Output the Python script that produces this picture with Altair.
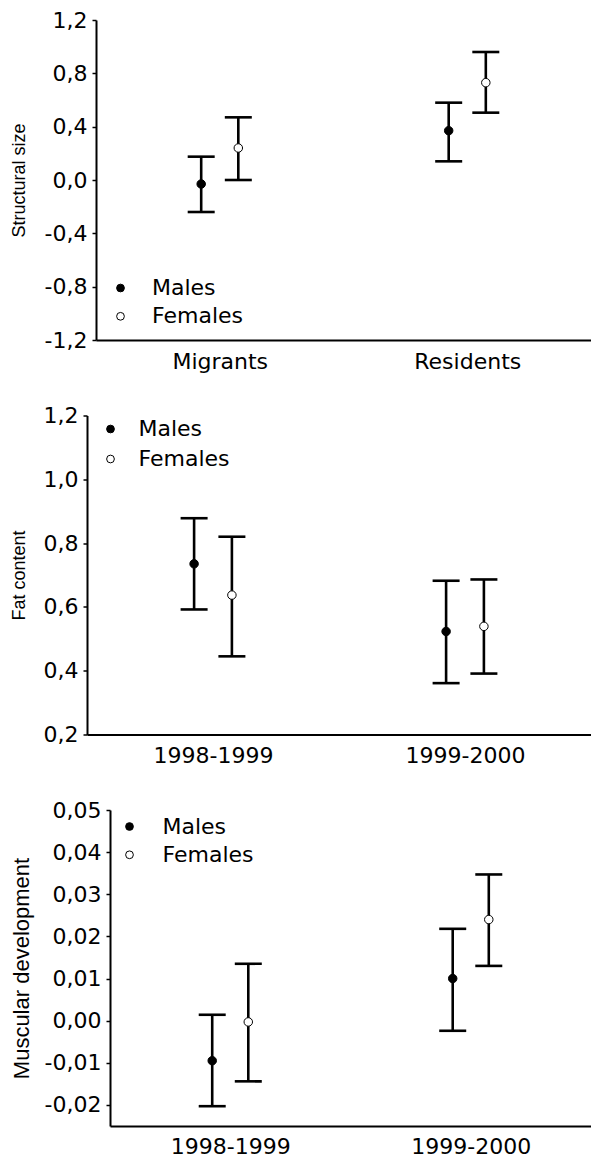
import altair as alt
import pandas as pd

LABEL_FONT = "DejaVu Sans"
TITLE_FONT = "Liberation Sans"
SEXES = ["Males", "Females"]
SEX_FILLS = ["black", "white"]
DODGE = 0.075  # horizontal shift of each sex around its group centre (axis units)

# Structural size by migratory status
migration = ["Migrants", "Residents"]
size_m_mean = [-0.03, 0.37]
size_m_lo = [-0.24, 0.14]
size_m_hi = [0.175, 0.58]
size_f_mean = [0.24, 0.73]
size_f_lo = [0.0, 0.505]
size_f_hi = [0.47, 0.96]
size_ticks = [-1.2, -0.8, -0.4, 0.0, 0.4, 0.8, 1.2]

# Fat content by season
seasons = ["1998-1999", "1999-2000"]
fat_m_mean = [0.735, 0.523]
fat_m_lo = [0.592, 0.361]
fat_m_hi = [0.878, 0.682]
fat_f_mean = [0.637, 0.539]
fat_f_lo = [0.445, 0.391]
fat_f_hi = [0.82, 0.686]
fat_ticks = [0.2, 0.4, 0.6, 0.8, 1.0, 1.2]

# Muscular development by season
mus_m_mean = [-0.0095, 0.0100]
mus_m_lo = [-0.0203, -0.0024]
mus_m_hi = [0.0014, 0.0218]
mus_f_mean = [-0.0003, 0.0240]
mus_f_lo = [-0.0144, 0.0130]
mus_f_hi = [0.0135, 0.0347]
mus_ticks = [-0.02, -0.01, 0.0, 0.01, 0.02, 0.03, 0.04, 0.05]


def table(groups, m_mean, m_lo, m_hi, f_mean, f_lo, f_hi):
    rows = []
    for i, g in enumerate(groups):
        rows.append(dict(gi=i, group=g, sex=SEXES[0], mean=m_mean[i], lo=m_lo[i], hi=m_hi[i]))
        rows.append(dict(gi=i, group=g, sex=SEXES[1], mean=f_mean[i], lo=f_lo[i], hi=f_hi[i]))
    return pd.DataFrame(rows)


def panel(df, groups, title, title_size, domain, ticks, fmt, width, height,
          extent, title_pad, x_label_pad, legend_x, legend_y, legend_gap, legend_offset):
    y_labels = ("replace(replace(format(datum.value, '%s'), '.', ','), '\u2212', '-')" % fmt)
    x_labels = "datum.value < 1 ? '%s' : '%s'" % (groups[0], groups[1])

    x = alt.X(
        "pos:Q",
        scale=alt.Scale(domain=[0, len(groups)], nice=False, zero=False),
        axis=alt.Axis(
            values=[i + 0.5 for i in range(len(groups))], labelExpr=x_labels,
            ticks=False, tickSize=0, grid=False, domainWidth=2, domainColor="black",
            labelFont=LABEL_FONT, labelFontSize=22, labelColor="black",
            labelPadding=x_label_pad, labelAngle=0,
        ),
        title=None,
    )
    y_scale = alt.Scale(domain=domain, nice=False, zero=False)
    y_axis = alt.Axis(
        values=ticks, labelExpr=y_labels, grid=False,
        tickSize=4, tickWidth=1.5, tickColor="black",
        domainWidth=2, domainColor="black",
        labelFont=LABEL_FONT, labelFontSize=22, labelColor="black", labelPadding=5,
        minExtent=extent, maxExtent=extent,
        titleFont=TITLE_FONT, titleFontSize=title_size, titleFontWeight="normal",
        titleColor="black", titlePadding=title_pad,
    )

    def yenc(field):
        return alt.Y(field, scale=y_scale, axis=y_axis, title=title)

    base = alt.Chart(df).transform_calculate(
        pos="datum.gi + 0.5 + (datum.sex == '%s' ? -%f : %f)" % (SEXES[0], DODGE, DODGE)
    )
    bars = base.mark_rule(color="black", strokeWidth=2.6).encode(
        x=x, y=yenc("lo:Q"), y2="hi:Q"
    )
    cap_lo = base.mark_tick(orient="horizontal", color="black", size=27,
                            thickness=2.6, opacity=1).encode(x=x, y=yenc("lo:Q"))
    cap_hi = base.mark_tick(orient="horizontal", color="black", size=27,
                            thickness=2.6, opacity=1).encode(x=x, y=yenc("hi:Q"))
    dots = base.mark_point(filled=True, shape="circle", size=72, stroke="black",
                           strokeWidth=1, opacity=1).encode(
        x=x,
        y=yenc("mean:Q"),
        fill=alt.Fill(
            "sex:N",
            scale=alt.Scale(domain=SEXES, range=SEX_FILLS),
            legend=alt.Legend(
                orient="none", legendX=legend_x, legendY=legend_y, title=None,
                padding=0, symbolType="circle", symbolSize=60,
                symbolStrokeColor="black", symbolStrokeWidth=1, symbolOpacity=1,
                labelFont=LABEL_FONT, labelFontSize=22, labelColor="black",
                labelOffset=legend_offset, rowPadding=legend_gap,
            ),
        ),
    )
    return alt.layer(bars, cap_lo, cap_hi, dots).properties(width=width, height=height)


def spacer(width):
    # empty, invisible cell that sets where the panel's plot area starts
    return (
        alt.Chart(pd.DataFrame({"z": [0]}))
        .mark_rect(opacity=0)
        .encode(x=alt.value(0), x2=alt.value(width), y=alt.value(0), y2=alt.value(1))
        .properties(width=width, height=1)
    )


def row(left, plot):
    return (
        alt.hconcat(spacer(left), plot, spacing=0, bounds="flush")
        .resolve_scale(x="independent", y="independent", fill="independent")
        .resolve_legend(fill="independent")
    )


size_df = table(migration, size_m_mean, size_m_lo, size_m_hi, size_f_mean, size_f_lo, size_f_hi)
fat_df = table(seasons, fat_m_mean, fat_m_lo, fat_m_hi, fat_f_mean, fat_f_lo, fat_f_hi)
mus_df = table(seasons, mus_m_mean, mus_m_lo, mus_m_hi, mus_f_mean, mus_f_lo, mus_f_hi)

p_size = panel(size_df, migration, "Structural size", 18, [-1.2, 1.2], size_ticks, ".1f",
               495, 320, 57, 11, 11, 13.5, 257, 6.3, 20.5)
p_fat = panel(fat_df, seasons, "Fat content", 18, [0.2, 1.2], fat_ticks, ".1f",
              504, 319, 50, 9, 11, 12.5, 2.5, 8, 17)
p_mus = panel(mus_df, seasons, "Muscular development", 22, [-0.025, 0.05], mus_ticks, ".2f",
              481, 316, 69, 8, 10, 8.5, 5.5, 6.3, 22)

chart = (
    alt.vconcat(row(96, p_size), row(87, p_fat), row(110, p_mus), spacing=32.5)
    .resolve_scale(x="independent", y="independent", fill="independent")
    .resolve_legend(fill="independent")
    .properties(padding={"left": 0, "top": 9, "right": 0, "bottom": 0}, background="white")
    .configure_view(stroke=None)
)

chart.save("out.html", embed_options={"renderer": "svg", "actions": False})
